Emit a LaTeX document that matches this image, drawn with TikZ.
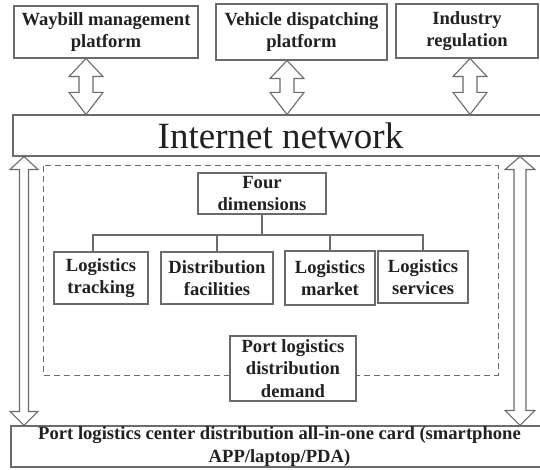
\documentclass[tikz,border=0pt]{standalone}
\usepackage{fontspec}
\setmainfont{Liberation Serif}
\usetikzlibrary{calc}
\definecolor{linec}{gray}{0.42}
\definecolor{textc}{gray}{0.13}
\tikzset{
  box/.style={draw=linec, line width=1.1pt, fill=white, align=center, inner sep=0pt,
    font=\bfseries\fontsize{18.6}{22.5}\selectfont, text=textc},
  hollow/.style={draw=linec, line width=1.1pt, fill=white, line join=miter},
  bus/.style={draw=linec, line width=1.1pt},
  dashedframe/.style={draw=linec, line width=1pt, dash pattern=on 6pt off 4pt}
}
% #1 top tip, #2 bottom tip, #3 head half width, #4 shaft half width, #5 top head length, #6 bottom head length
\newcommand\hollowdbl[6]{%
  \draw[hollow] let \p1=(#1), \p2=(#2) in
    (\x1,\y1) -- (\x1+#3pt,\y1-#5pt) -- (\x1+#4pt,\y1-#5pt) -- (\x1+#4pt,\y2+#6pt)
    -- (\x1+#3pt,\y2+#6pt) -- (\x1,\y2) -- (\x1-#3pt,\y2+#6pt) -- (\x1-#4pt,\y2+#6pt)
    -- (\x1-#4pt,\y1-#5pt) -- (\x1-#3pt,\y1-#5pt) -- cycle;}
\begin{document}
\begin{tikzpicture}[x=1pt,y=-1pt]
\useasboundingbox (0,0) rectangle (540,470);
% top boxes
\node[box, minimum width=184pt, minimum height=52pt] (wb) at (106,32) {Waybill management\\platform};
\node[box, minimum width=171pt, minimum height=56pt] (vd) at (301.5,32) {Vehicle dispatching\\platform};
\node[box, minimum width=142pt, minimum height=54pt] (ir) at (467,31) {Industry\\regulation};
% internet
\node[box, minimum width=535pt, minimum height=41pt, font=\fontsize{37}{40}\selectfont] (inet) at (280.5,135.5) {Internet network};
% bottom
\node[box, minimum width=537pt, minimum height=41pt] (bot) at (279.5,446.5) {Port logistics center distribution all-in-one card (smartphone\\APP/laptop/PDA)};
% dashed frame
\draw[dashedframe] (43,166) rectangle (498,375);
% inner boxes
\node[box, minimum width=128pt, minimum height=41pt] (fd) at (262,193.5) {Four\\dimensions};
\node[box, minimum width=94pt, minimum height=52pt] (lt) at (101,278) {Logistics\\tracking};
\node[box, minimum width=112pt, minimum height=52pt] (df) at (217,278) {Distribution\\facilities};
\node[box, minimum width=90pt, minimum height=54pt] (lm) at (330,278) {Logistics\\market};
\node[box, minimum width=90pt, minimum height=52pt] (ls) at (423,277) {Logistics\\services};
\node[box, minimum width=126pt, minimum height=65pt] (pd) at (293,368.5) {Port logistics\\distribution\\demand};
% tree connectors
\coordinate (busc) at (262,235);
\draw[bus] (fd.south) -- (fd.south |- busc);
\draw[bus] (93,0 |- lt.north) |- (busc) -| (ls.north);
\draw[bus] (df.north) -- (df.north |- busc);
\draw[bus] (lm.north) -- (lm.north |- busc);
% hollow double arrows (top)
\coordinate (a1t) at (86,0 |- wb.south);
\coordinate (a1b) at (86,0 |- inet.north);
\coordinate (a2t) at (287,0 |- vd.south);
\coordinate (a2b) at (287,0 |- inet.north);
\coordinate (a3t) at (470,0 |- ir.south);
\coordinate (a3b) at (470,0 |- inet.north);
\hollowdbl{a1t}{a1b}{17}{7}{18}{22}
\hollowdbl{a2t}{a2b}{17}{7}{18}{22}
\hollowdbl{a3t}{a3b}{17}{7}{18}{22}
% side arrows
\coordinate (l1t) at (24,0 |- inet.south);
\coordinate (l1b) at (24,0 |- bot.north);
\coordinate (r1t) at (520,0 |- inet.south);
\coordinate (r1b) at (520,0 |- bot.north);
\hollowdbl{l1t}{l1b}{14}{4.5}{13}{14}
\hollowdbl{r1t}{r1b}{15}{6}{13}{15}
\end{tikzpicture}
\end{document}
